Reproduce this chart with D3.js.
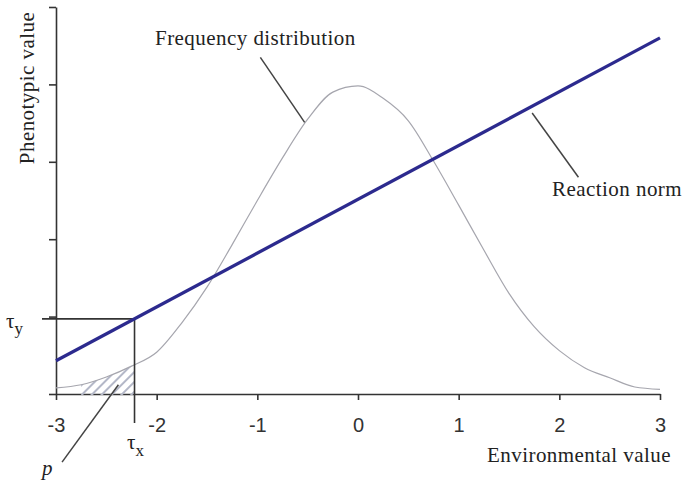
<!DOCTYPE html>
<html>
<head>
<meta charset="utf-8">
<script src="https://cdn.jsdelivr.net/npm/d3@7"></script>
<style>
  body { margin: 0; background: #fff; }
  text { font-family: "Liberation Serif", "Times New Roman", serif; fill: #222; }
  .lbl { letter-spacing: 0.45px; }
  .tick text { font-family: "Liberation Sans", Arial, sans-serif; font-size: 20px; fill: #333; }
</style>
</head>
<body>
<div id="chart"></div>
<script>
(function() {
	var width = 684;
	var height = 483;

	// axis ticks
	var envTicks = [-3, -2, -1, 0, 1, 2, 3];
	var phenoTicks = [0, 1, 2, 3, 4, 5];

	// frequency distribution
	var freqX = [-3, -2.75, -2.5, -2.25, -2, -1.75, -1.5, -1.25, -1, -0.75, -0.5, -0.25, 0,
	             0.25, 0.5, 0.75, 1, 1.25, 1.5, 1.75, 2, 2.25, 2.5, 2.75, 3];
	var freqY = [0.08, 0.12, 0.22, 0.36, 0.54, 0.92, 1.38, 1.93, 2.50, 3.05, 3.55, 3.90, 3.98,
	             3.82, 3.53, 3.01, 2.44, 1.86, 1.30, 0.87, 0.56, 0.34, 0.21, 0.09, 0.06];

	// reaction norm (straight line)
	var normX = [-3, 3];
	var normY = [0.43, 4.6];

	// threshold
	var tauX = -2.22;
	var tauY = 0.97;
	var hatchFrom = -2.75;

	var x = d3.scaleLinear().domain([-3, 3]).range([56, 660]);
	var y = d3.scaleLinear().domain([0, 5]).range([394, 7]);

	var svg = d3.select("#chart")
				.append("svg")
				.attr("width", width)
				.attr("height", height);

	svg.append("rect").attr("width", width).attr("height", height).attr("fill", "#fff");

	// hatch pattern
	var defs = svg.append("defs");
	defs.append("pattern")
		.attr("id", "hatch")
		.attr("patternUnits", "userSpaceOnUse")
		.attr("width", 7)
		.attr("height", 7)
		.attr("patternTransform", "rotate(45)")
		.append("line")
		.attr("x1", 0).attr("y1", 0)
		.attr("x2", 0).attr("y2", 7)
		.attr("stroke", "#b4b8c8")
		.attr("stroke-width", 4);

	defs.append("clipPath")
		.attr("id", "pclip")
		.append("rect")
		.attr("x", x(hatchFrom))
		.attr("y", 0)
		.attr("width", x(tauX) - x(hatchFrom))
		.attr("height", y(0) + 1);

	// axes
	svg.append("g")
		.attr("transform", "translate(0," + y(0) + ")")
		.call(d3.axisBottom(x)
			.tickValues(envTicks)
			.tickSize(6)
			.tickSizeOuter(0)
			.tickPadding(18)
			.tickFormat(function(d) { return d < 0 ? "-" + Math.abs(d) : d; }));

	svg.append("g")
		.attr("transform", "translate(" + x(-3) + ",0)")
		.call(d3.axisLeft(y)
			.tickValues(phenoTicks)
			.tickSize(7)
			.tickSizeOuter(0)
			.tickFormat(""));

	svg.selectAll(".domain, .tick line")
		.attr("stroke", "#333")
		.attr("stroke-width", 1.6);

	var pts = freqX.map(function(d, i) { return [d, freqY[i]]; });

	// hatched area p
	svg.append("path")
		.datum(pts)
		.attr("clip-path", "url(#pclip)")
		.attr("fill", "url(#hatch)")
		.attr("d", d3.area()
			.curve(d3.curveMonotoneX)
			.x(function(d) { return x(d[0]); })
			.y0(y(0) + 1)
			.y1(function(d) { return y(d[1]); }));

	// frequency curve
	svg.append("path")
		.datum(pts)
		.attr("fill", "none")
		.attr("stroke", "#a6a6ae")
		.attr("stroke-width", 1.2)
		.attr("d", d3.line()
			.curve(d3.curveMonotoneX)
			.x(function(d) { return x(d[0]); })
			.y(function(d) { return y(d[1]); }));

	// threshold lines
	svg.append("line")
		.attr("x1", 42).attr("y1", y(tauY))
		.attr("x2", x(tauX)).attr("y2", y(tauY))
		.attr("stroke", "#333").attr("stroke-width", 1.6);
	svg.append("line")
		.attr("x1", x(tauX)).attr("y1", y(tauY))
		.attr("x2", x(tauX)).attr("y2", 423)
		.attr("stroke", "#333").attr("stroke-width", 1.6);

	// reaction norm
	svg.append("path")
		.datum(normX.map(function(d, i) { return [d, normY[i]]; }))
		.attr("fill", "none")
		.attr("stroke", "#2c2a8e")
		.attr("stroke-width", 3.2)
		.attr("d", d3.line()
			.x(function(d) { return x(d[0]); })
			.y(function(d) { return y(d[1]); }));

	// leader lines (data units)
	var leaders = [
		[[-0.97, 4.35], [-0.53, 3.51]],
		[[1.73, 3.63], [2.19, 2.80]],
		[[-2.94, -0.88], [-2.38, 0.12]]
	];
	svg.selectAll(".leader")
		.data(leaders)
		.enter()
		.append("line")
		.attr("class", "leader")
		.attr("x1", function(d) { return x(d[0][0]); })
		.attr("y1", function(d) { return y(d[0][1]); })
		.attr("x2", function(d) { return x(d[1][0]); })
		.attr("y2", function(d) { return y(d[1][1]); })
		.attr("stroke", "#444")
		.attr("stroke-width", 1.5);

	// labels
	svg.append("text").attr("class", "lbl").attr("x", 155).attr("y", 45).attr("font-size", 21).text("Frequency distribution");
	svg.append("text").attr("class", "lbl").attr("x", 552).attr("y", 196).attr("font-size", 21).text("Reaction norm");
	svg.append("text").attr("class", "lbl").attr("x", 487).attr("y", 462).attr("font-size", 21).text("Environmental value");
	svg.append("text")
		.attr("class", "lbl")
		.attr("transform", "translate(34,88) rotate(-90)")
		.attr("text-anchor", "middle")
		.attr("font-size", 21)
		.text("Phenotypic value");

	var ty = svg.append("text").attr("x", 6).attr("y", 328).attr("font-size", 21);
	ty.append("tspan").text("τ");
	ty.append("tspan").attr("dy", 6).attr("font-size", 17).text("y");

	var tx = svg.append("text").attr("x", 127).attr("y", 449).attr("font-size", 21);
	tx.append("tspan").text("τ");
	tx.append("tspan").attr("dy", 7).attr("font-size", 17).text("x");

	svg.append("text").attr("x", 42).attr("y", 475).attr("font-size", 21)
		.attr("font-style", "italic").text("p");
})();
</script>
</body>
</html>
